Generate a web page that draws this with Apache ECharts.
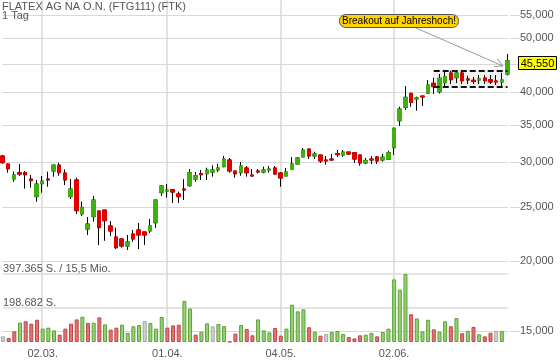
<!DOCTYPE html>
<html><head><meta charset="utf-8">
<script src="https://cdn.jsdelivr.net/npm/echarts@6/dist/echarts.min.js"></script>
<style>html,body{margin:0;padding:0;background:#fff}#c{width:560px;height:362px}</style>
</head><body><div id="c"></div>
<script>
const dates = ['20.02.','21.02.','24.02.','25.02.','26.02.','27.02.','28.02.',
 '02.03.','03.03.','04.03.','05.03.','06.03.','09.03.','10.03.','11.03.','12.03.','13.03.','16.03.','17.03.','18.03.','19.03.','20.03.','23.03.','24.03.','25.03.','26.03.','27.03.','30.03.','31.03.',
 '01.04.','02.04.','03.04.','06.04.','07.04.','08.04.','09.04.','14.04.','15.04.','16.04.','17.04.','20.04.','21.04.','22.04.','23.04.','24.04.','27.04.','28.04.','29.04.','30.04.',
 '04.05.','05.05.','06.05.','07.05.','08.05.','11.05.','12.05.','13.05.','14.05.','15.05.','18.05.','19.05.','20.05.','21.05.','22.05.','25.05.','26.05.','27.05.','28.05.','29.05.',
 '02.06.','03.06.','04.06.','05.06.','08.06.','09.06.','10.06.','11.06.','12.06.','15.06.','16.06.','17.06.','18.06.','19.06.','22.06.','23.06.','24.06.','25.06.','26.06.','29.06.','30.06.'];

const open  = [30800,29800,28020,28760,28760,28020,26060,27490,28020,28960,29680,28720,26060,27910,24270,22810,24000,24570,24670,23100,22080,21900,21270,22350,22720,22540,22630,23410,26490,26670,
 26820,26350,26890,27260,28020,28640,28640,28840,29080,29480,30300,28960,28760,29320,28490,28960,28840,29080,29320,28720,28370,29200,29800,30680,31700,30800,30930,30300,30420,31100,
 30930,31310,31220,30930,29930,30420,30680,30300,30390,31870,35610,37630,39860,38940,39420,39860,41530,40120,41640,43330,42500,43330,42280,42050,42100,42450,42150,41930,41760,43150];
const high  = [30950,29850,28880,29800,28960,28490,27910,28370,28880,29700,29970,29160,28020,28170,25520,23970,26130,24570,24670,23580,22940,21900,22260,22720,23380,22540,23770,25750,27340,27450,
 26890,26600,28020,29200,28840,29080,29360,29650,29840,30800,30550,28960,30050,29560,29200,29200,29480,29560,29560,28840,29320,30680,30680,31830,31700,31350,30930,30800,31060,31570,
 31570,31310,31220,30930,30550,30800,30800,31060,31480,34600,37720,41080,39860,39310,39420,42100,42500,43150,43510,43740,43740,43740,42850,42620,42975,42975,42975,42975,43380,46850];
const low   = [29850,28760,27710,28370,26930,27040,25520,26490,27150,28290,28400,27340,25810,24270,24070,22260,23510,21360,21740,22170,21010,21130,20930,21650,21010,21360,22440,22910,26130,25950,
 25390,25390,25700,27150,27710,27910,27910,28290,28810,29400,28760,28170,28400,28290,28290,28690,28690,28760,28490,27150,28370,29080,29800,30680,30420,30420,29930,29720,30210,30680,
 30710,30930,29930,29600,29800,29800,29800,30090,30300,30930,34850,37215,37720,37110,37830,39750,39750,39830,40740,41410,41580,41410,41410,41410,41410,41410,41410,41240,41080,42890];
const close = [29970,29230,28490,28600,28520,27830,27450,27790,27910,29680,28760,27910,26890,24600,24940,23290,25700,22940,23610,22630,21130,21270,21630,21900,22260,22260,23100,25700,27230,26780,
 26560,26060,26780,28760,28400,28520,29080,29080,29320,30420,28960,28640,29560,28760,28370,28840,29080,29200,28600,28140,28840,29800,30550,31570,30800,31060,30180,30180,30300,30970,
 31310,31060,30420,29930,30250,30300,30180,30640,31220,34520,37370,39210,38410,39100,39260,41240,40960,42400,42680,42150,43330,41980,42100,41880,42280,41980,41760,41760,42100,45550];
const volume = [33000,23000,62000,113000,121000,107000,130000,78000,84000,68000,43000,78000,107000,132000,148000,111000,113000,144000,103000,72000,
 84000,101000,53000,92000,99000,123000,111000,78000,146000,84000,97000,101000,240000,195000,43000,60000,109000,92000,105000,93000,
 2000,49000,99000,76000,39000,132000,68000,56000,82000,37000,78000,218000,179000,191000,86000,60000,37000,47000,58000,64000,
 47000,29000,21000,39000,43000,53000,33000,58000,78000,366000,306000,397365,162000,138000,62000,130000,74000,60000,121000,92000,
 140000,51000,66000,88000,45000,33000,54000,66000,64000,null];

const priceTicks = [15000,20000,25000,30000,35000,40000,45000,50000,55000];
const volumeTicks = [198682, 397365];
const turnoverLabel = '15,5 Mio.';
const dateLabels = ['02.03.','01.04.','04.05.','02.06.'];
const lastPrice = 45550;
const rangeFrom = '11.06.', rangeTo = '30.06.', rangeHigh = 43740, rangeLow = 40900;

const FONT = '"Liberation Sans", Arial, sans-serif';
const GREEN = '#3db20c', RED = '#e00000';
const fmtComma = v => String(v).replace(/\B(?=(\d{3})+(?!\d))/g, ',');
const fmtDot = v => String(v).replace(/\B(?=(\d{3})+(?!\d))/g, '.');
const showDate = (i, v) => dateLabels.indexOf(v) >= 0;

const wickData = dates.map((d, i) => [open[i], close[i], low[i], high[i]]);
const bodyData = dates.map((d, i) => [open[i], close[i], Math.min(open[i], close[i]), Math.max(open[i], close[i])]);
const volData = volume.map((v, i) => {
  let fill = '#d0d0d0', border = '#a8a8a8';
  if (i > 0 && close[i] > close[i - 1]) { fill = '#93d46f'; border = '#5e9f3c'; }
  else if (i > 0 && close[i] < close[i - 1]) { fill = '#e97171'; border = '#b84a4a'; }
  return { value: v, itemStyle: { color: fill, borderColor: border, borderWidth: 1 } };
});

const chart = echarts.init(document.getElementById('c'), null, { renderer: 'canvas' });
const baseGraphic = [
  { type: 'text', left: 2, top: 1, z: 100, style: { text: 'FLATEX AG NA O.N. (FTG111) (FTK)', fill: '#555', font: '11px ' + FONT } },
  { type: 'text', left: 2, top: 10.5, z: 100, style: { text: '1 Tag', fill: '#555', font: '11px ' + FONT } },
  { type: 'line', z: 100, shape: { x1: 416, y1: 28, x2: 503, y2: 66 }, style: { stroke: '#999', lineWidth: 1 } },
  { type: 'polyline', z: 100, shape: { points: [[497, 58.5], [503, 66], [494, 66.5]] }, style: { stroke: '#999', lineWidth: 1, fill: null } },
  { type: 'rect', z: 101, shape: { x: 339.5, y: 14.5, width: 119, height: 13, r: 6 }, style: { fill: '#ffd200', stroke: '#555', lineWidth: 1 } },
  { type: 'text', z: 102, x: 399, y: 21.5, style: { text: 'Breakout auf Jahreshoch!', fill: '#000', font: '10px ' + FONT, align: 'center', verticalAlign: 'middle' } }
];
chart.setOption({
  animation: false,
  textStyle: { fontFamily: FONT },
  grid: [
    { left: 2.5, top: 0, width: 505, height: 342 },
    { left: 2.5, top: 274, width: 505, height: 68 }
  ],
  xAxis: [
    { type: 'category', gridIndex: 0, data: dates, boundaryGap: false, axisLine: { show: false }, axisTick: { show: false },
      axisLabel: { show: false }, splitLine: { show: true, interval: showDate, lineStyle: { color: '#d8d8d8', width: 1.5 } } },
    { type: 'category', gridIndex: 1, data: dates, boundaryGap: false, axisLine: { show: false }, axisTick: { show: false },
      axisLabel: { show: true, interval: showDate, color: '#555', fontSize: 11, margin: 6, fontFamily: FONT },
      splitLine: { show: false } }
  ],
  yAxis: [
    { type: 'log', gridIndex: 0, position: 'right', min: 14336, max: 58499, offset: 2.5,
      axisLine: { show: false },
      axisTick: { show: true, inside: false, length: 10, customValues: priceTicks, lineStyle: { color: '#d8d8d8' } },
      axisLabel: { show: true, customValues: priceTicks, formatter: v => fmtComma(v), color: '#555', fontSize: 11, margin: 10, fontFamily: FONT },
      splitLine: { show: true, lineStyle: { color: '#d8d8d8' } } },
    { type: 'value', gridIndex: 1, position: 'left', min: 0, max: 397365,
      axisLine: { show: false },
      axisTick: { show: false, customValues: volumeTicks },
      axisLabel: { show: true, inside: true, customValues: volumeTicks, margin: 0, verticalAlign: 'bottom',
        formatter: v => v === volumeTicks[1] ? fmtDot(v) + ' S. / ' + turnoverLabel : fmtDot(v) + ' S.',
        color: '#555', fontSize: 11, fontFamily: FONT },
      splitLine: { show: true, lineStyle: { color: '#e4e4e4', width: 2 } } }
  ],
  series: [
    { type: 'candlestick', name: 'wick', xAxisIndex: 0, yAxisIndex: 0, data: wickData, barWidth: 4, silent: true, clip: false,
      itemStyle: { color: '#000', color0: '#000', borderColor: '#000', borderColor0: '#000', borderWidth: 1 },
      markArea: { silent: true, itemStyle: { color: 'rgba(0,0,0,0.06)' },
        data: [[{ coord: [rangeFrom, rangeHigh * 1.005] }, { coord: [rangeTo, rangeLow * 0.995] }]] } },
    { type: 'candlestick', name: 'body', xAxisIndex: 0, yAxisIndex: 0, data: bodyData, barWidth: 4, silent: true, clip: false,
      itemStyle: { color: GREEN, color0: RED, borderColor: GREEN, borderColor0: RED, borderWidth: 1 },
      markLine: { silent: true, symbol: 'none', animation: false,
        lineStyle: { type: [6, 3], color: '#111', width: 2 }, label: { show: false },
        data: [
          [{ coord: [rangeFrom, rangeHigh] }, { coord: [rangeTo, rangeHigh] }],
          [{ coord: [rangeFrom, rangeLow] }, { coord: [rangeTo, rangeLow] }]
        ] } },
    { type: 'bar', name: 'volume', xAxisIndex: 1, yAxisIndex: 1, data: volData, barWidth: 4, silent: true, clip: false }
  ],
  graphic: baseGraphic
});
const tag = chart.convertToPixel({ xAxisIndex: 0, yAxisIndex: 0 }, [dates[dates.length - 1], lastPrice]);
const tagY = Math.round(tag[1]) + 2;
chart.setOption({
  graphic: baseGraphic.concat([
    { type: 'rect', z: 103, shape: { x: 518.5, y: tagY - 6.5, width: 38, height: 13 }, style: { fill: '#ffff00', stroke: '#000', lineWidth: 1 } },
    { type: 'text', z: 104, x: 537.5, y: tagY + 0.5, style: { text: fmtComma(lastPrice), fill: '#000', font: '11px ' + FONT, align: 'center', verticalAlign: 'middle' } }
  ])
});
</script>
</body></html>
